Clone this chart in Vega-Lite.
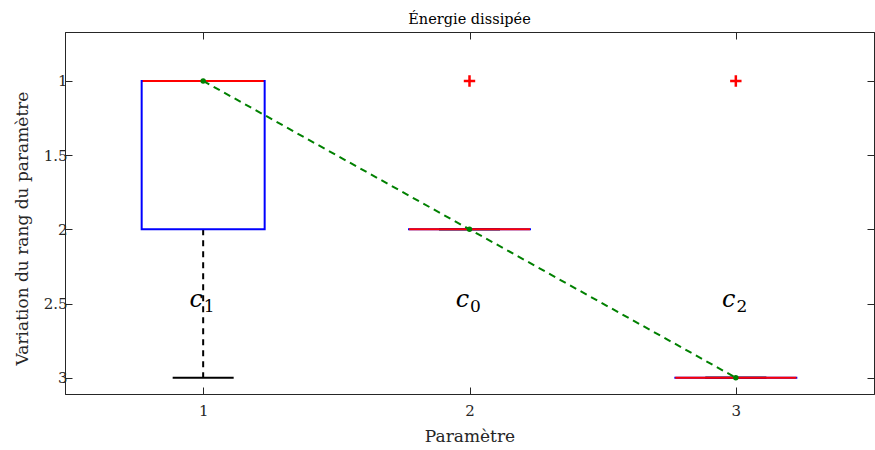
{
  "$schema": "https://vega.github.io/schema/vega-lite/v6.json",
  "width": 809,
  "height": 362,
  "autosize": {"type": "none"},
  "padding": {"left": 65, "top": 32, "right": 1, "bottom": 56},
  "background": "white",
  "config": {
    "font": "DejaVu Serif",
    "view": {"stroke": "#262626", "strokeWidth": 1},
    "axis": {
      "domainColor": "#262626",
      "tickColor": "#262626",
      "labelColor": "#262626",
      "titleColor": "#262626",
      "labelFont": "DejaVu Serif",
      "titleFont": "DejaVu Serif",
      "labelFontSize": 15,
      "titleFontSize": 17,
      "titleFontWeight": "normal",
      "grid": false,
      "tickSize": -7,
      "tickWidth": 1
    }
  },
  "title": {
    "text": "Énergie dissipée",
    "font": "DejaVu Serif",
    "fontSize": 14.5,
    "fontWeight": "normal",
    "color": "#000000",
    "offset": 4
  },
  "datasets": {
    "boxes": [
      {"param": 1, "q1": 1, "q3": 2, "median": 1, "wlo": 1, "whi": 3, "label": "c", "sub": "1"},
      {"param": 2, "q1": 2, "q3": 2, "median": 2, "wlo": 2, "whi": 2, "label": "c", "sub": "0"},
      {"param": 3, "q1": 3, "q3": 3, "median": 3, "wlo": 3, "whi": 3, "label": "c", "sub": "2"}
    ],
    "outliers": [
      {"param": 2, "rank": 1},
      {"param": 3, "rank": 1}
    ]
  },
  "resolve": {"axis": {"x": "independent", "y": "independent"}},
  "layer": [
    {
      "data": {"name": "boxes"},
      "mark": {"type": "rule", "color": "#000000", "strokeWidth": 2, "strokeDash": [6, 5]},
      "encoding": {
        "x": {
          "field": "param", "type": "quantitative",
          "scale": {"domain": [0.5, 3.5], "nice": false, "zero": false},
          "axis": {"orient": "bottom", "values": [1, 2, 3], "format": "d", "title": "Paramètre", "labelPadding": 16, "titlePadding": 10}
        },
        "y": {
          "field": "q3", "type": "quantitative",
          "scale": {"domain": [0.67, 3.11], "nice": false, "zero": false, "reverse": true},
          "axis": {"orient": "left", "values": [1, 1.5, 2, 2.5, 3], "format": "~g", "title": "Variation du rang du paramètre", "labelPadding": 5, "titlePadding": 12, "titleY": 196}
        },
        "y2": {"field": "whi"}
      }
    },
    {
      "data": {"name": "boxes"},
      "mark": {"type": "rule", "color": "#000000", "strokeWidth": 2, "strokeDash": [6, 5]},
      "encoding": {
        "x": {"field": "param", "type": "quantitative", "axis": {"orient": "top", "values": [1, 2, 3], "labels": false, "title": null}},
        "y": {"field": "q1", "type": "quantitative", "axis": {"orient": "right", "values": [1, 1.5, 2, 2.5, 3], "labels": false, "title": null}},
        "y2": {"field": "wlo"}
      }
    },
    {
      "data": {"name": "boxes"},
      "mark": {"type": "tick", "orient": "horizontal", "color": "#000000", "size": 61, "thickness": 2, "opacity": 1},
      "encoding": {
        "x": {"field": "param", "type": "quantitative", "axis": null},
        "y": {"field": "whi", "type": "quantitative", "axis": null}
      }
    },
    {
      "data": {"name": "boxes"},
      "mark": {"type": "tick", "orient": "horizontal", "color": "#000000", "size": 61, "thickness": 2, "opacity": 1},
      "encoding": {
        "x": {"field": "param", "type": "quantitative", "axis": null},
        "y": {"field": "wlo", "type": "quantitative", "axis": null}
      }
    },
    {
      "data": {"name": "boxes"},
      "mark": {"type": "bar", "orient": "vertical", "width": 123, "fill": "#ffffff", "fillOpacity": 0, "stroke": "#0000ff", "strokeWidth": 2},
      "encoding": {
        "x": {"field": "param", "type": "quantitative", "axis": null},
        "y": {"field": "q1", "type": "quantitative", "axis": null},
        "y2": {"field": "q3"}
      }
    },
    {
      "data": {"name": "boxes"},
      "mark": {"type": "tick", "orient": "horizontal", "color": "#ff0000", "size": 121, "thickness": 2, "opacity": 1},
      "encoding": {
        "x": {"field": "param", "type": "quantitative", "axis": null},
        "y": {"field": "median", "type": "quantitative", "axis": null}
      }
    },
    {
      "data": {"name": "outliers"},
      "mark": {"type": "point", "shape": "M-1,0H1M0,-1V1", "filled": false, "stroke": "#ff0000", "strokeWidth": 2.5, "size": 130, "opacity": 1},
      "encoding": {
        "x": {"field": "param", "type": "quantitative", "axis": null},
        "y": {"field": "rank", "type": "quantitative", "axis": null}
      }
    },
    {
      "data": {"name": "boxes"},
      "mark": {"type": "line", "color": "#008000", "strokeWidth": 2, "strokeDash": [7, 5]},
      "encoding": {
        "x": {"field": "param", "type": "quantitative", "axis": null},
        "y": {"field": "median", "type": "quantitative", "axis": null}
      }
    },
    {
      "data": {"name": "boxes"},
      "mark": {"type": "circle", "color": "#008000", "size": 30, "opacity": 1},
      "encoding": {
        "x": {"field": "param", "type": "quantitative", "axis": null},
        "y": {"field": "median", "type": "quantitative", "axis": null}
      }
    },
    {
      "data": {"name": "boxes"},
      "mark": {"type": "text", "font": "DejaVu Serif", "fontStyle": "italic", "fontSize": 24, "color": "#000000", "dx": -7, "dy": -4, "baseline": "middle", "align": "center"},
      "encoding": {
        "x": {"field": "param", "type": "quantitative", "axis": null},
        "y": {"datum": 2.5, "type": "quantitative", "axis": null},
        "text": {"field": "label"}
      }
    },
    {
      "data": {"name": "boxes"},
      "mark": {"type": "text", "font": "DejaVu Serif", "fontSize": 17, "color": "#000000", "dx": 6, "dy": 3, "baseline": "middle", "align": "center"},
      "encoding": {
        "x": {"field": "param", "type": "quantitative", "axis": null},
        "y": {"datum": 2.5, "type": "quantitative", "axis": null},
        "text": {"field": "sub"}
      }
    }
  ]
}
